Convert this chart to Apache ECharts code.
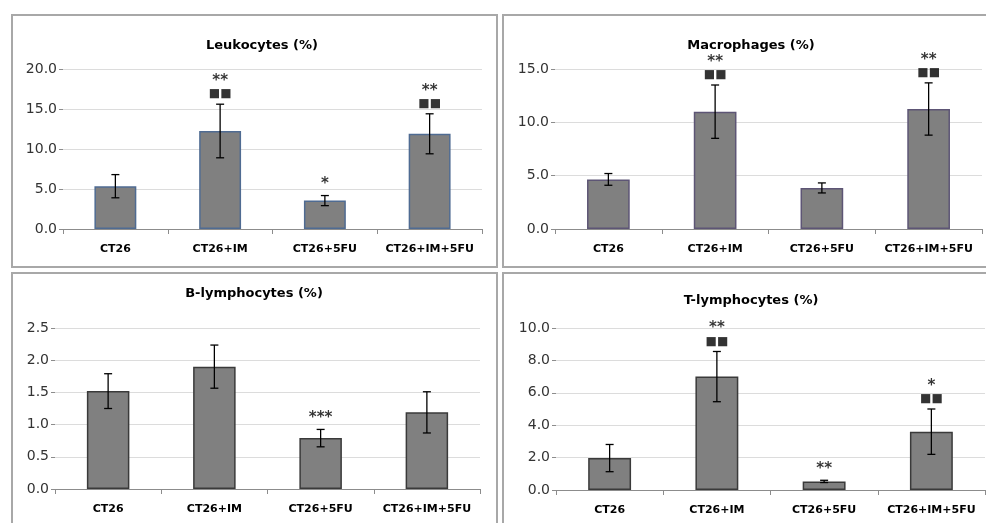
<!DOCTYPE html>
<html>
<head>
<meta charset="utf-8">
<script src="https://cdn.jsdelivr.net/npm/echarts@6/dist/echarts.min.js"></script>
<style>
html,body{margin:0;padding:0;background:#fff;}
#chart{width:986px;height:523px;}
</style>
</head>
<body>
<div id="chart"></div>
<script>
// ---- data ----
const categories = ['CT26', 'CT26+IM', 'CT26+5FU', 'CT26+IM+5FU'];

const leukTitle = 'Leukocytes (%)';
const leukMean = [5.35, 12.25, 3.55, 11.9];
const leukErr = [1.45, 3.35, 0.63, 2.5];
const leukStars = ['', '**', '*', '**'];
const leukSquares = ['', '■■', '', '■■'];
const leukTicks = [0, 20, 5];

const macTitle = 'Macrophages (%)';
const macMean = [4.65, 11.0, 3.85, 11.25];
const macErr = [0.55, 2.5, 0.47, 2.45];
const macStars = ['', '**', '', '**'];
const macSquares = ['', '■■', '', '■■'];
const macTicks = [0, 15, 5];

const bTitle = 'B-lymphocytes (%)';
const bMean = [1.52, 1.9, 0.79, 1.19];
const bErr = [0.27, 0.335, 0.135, 0.32];
const bStars = ['', '', '***', ''];
const bSquares = ['', '', '', ''];
const bTicks = [0, 2.5, 0.5];

const tTitle = 'T-lymphocytes (%)';
const tMean = [1.97, 7.0, 0.53, 3.6];
const tErr = [0.84, 1.55, 0.07, 1.4];
const tStars = ['', '**', '**', '*'];
const tSquares = ['', '■■', '', '■■'];
const tTicks = [0, 10, 2];

// ---- layout ----
const FONT = 'DejaVu Sans';
const panels = [
  {title: leukTitle, mean: leukMean, err: leukErr, stars: leukStars, sq: leukSquares, ticks: leukTicks,
   grid: {left: 63, top: 69, width: 419, height: 160}, titlePos: [257, 34], border: '#4f6b92',
   frame: [12, 15, 485, 252]},
  {title: macTitle, mean: macMean, err: macErr, stars: macStars, sq: macSquares, ticks: macTicks,
   grid: {left: 555, top: 69, width: 427, height: 160}, titlePos: [746, 34], border: '#5d5575',
   frame: [503, 15, 490, 252]},
  {title: bTitle, mean: bMean, err: bErr, stars: bStars, sq: bSquares, ticks: bTicks,
   grid: {left: 55, top: 328, width: 425, height: 161}, titlePos: [249, 282], border: '#3a3a3a',
   frame: [12, 273, 485, 260]},
  {title: tTitle, mean: tMean, err: tErr, stars: tStars, sq: tSquares, ticks: tTicks,
   grid: {left: 556, top: 328, width: 429, height: 162}, titlePos: [746, 289], border: '#3a3a3a',
   frame: [503, 273, 490, 260]}
];

const option = {
  animation: false,
  backgroundColor: '#ffffff',
  title: [], grid: [], xAxis: [], yAxis: [], series: [],
  graphic: []
};

panels.forEach((p, gi) => {
  option.graphic.push({
    type: 'rect', silent: true, z: -10,
    shape: {x: p.frame[0], y: p.frame[1], width: p.frame[2], height: p.frame[3]},
    style: {fill: 'none', stroke: '#a8a8a8', lineWidth: 2}
  });
  option.title.push({
    text: p.title, left: p.titlePos[0], top: p.titlePos[1], textAlign: 'center',
    textStyle: {fontFamily: FONT, fontSize: 13, fontWeight: 'bold', color: '#000'}
  });
  option.grid.push(Object.assign({containLabel: false}, p.grid));
  option.xAxis.push({
    type: 'category', gridIndex: gi, data: categories,
    axisLine: {lineStyle: {color: '#8c8c8c', width: 1}},
    axisTick: {show: true, length: 5, lineStyle: {color: '#8c8c8c'}},
    axisLabel: {interval: 0, fontFamily: FONT, fontSize: 11, fontWeight: 'bold', color: '#000', margin: 15}
  });
  option.yAxis.push({
    type: 'value', gridIndex: gi, min: p.ticks[0], max: p.ticks[1], interval: p.ticks[2],
    axisLine: {show: false},
    axisTick: {show: true, length: 4, lineStyle: {color: '#8c8c8c'}},
    splitLine: {lineStyle: {color: '#dcdcdc', width: 1}},
    axisLabel: {fontFamily: FONT, fontSize: 14, color: '#333', margin: 6,
      formatter: v => v.toFixed(1)}
  });
  option.series.push({
    type: 'bar', xAxisIndex: gi, yAxisIndex: gi, data: p.mean, barWidth: '40%',
    itemStyle: {color: '#808080', borderColor: p.border, borderWidth: 1.5},
    z: 2
  });
  option.series.push({
    type: 'custom', xAxisIndex: gi, yAxisIndex: gi, z: 5,
    data: p.mean.map((m, i) => [i, m - p.err[i], m + p.err[i]]),
    encode: {x: 0, y: [1, 2]},
    renderItem: (params, api) => {
      const x = api.value(0);
      const lo = api.coord([x, api.value(1)]);
      const hi = api.coord([x, api.value(2)]);
      const w = 4;
      const st = {stroke: '#000', lineWidth: 1.3};
      return {type: 'group', children: [
        {type: 'line', shape: {x1: hi[0], y1: hi[1], x2: lo[0], y2: lo[1]}, style: st},
        {type: 'line', shape: {x1: hi[0] - w, y1: hi[1], x2: hi[0] + w, y2: hi[1]}, style: st},
        {type: 'line', shape: {x1: lo[0] - w, y1: lo[1], x2: lo[0] + w, y2: lo[1]}, style: st}
      ]};
    }
  });
  option.series.push({
    type: 'scatter', xAxisIndex: gi, yAxisIndex: gi, symbolSize: 0, z: 6, silent: true,
    data: p.mean.map((m, i) => ({
      value: [i, m + p.err[i]],
      label: {
        show: !!(p.stars[i] || p.sq[i]), position: 'top', distance: 4,
        formatter: () => {
          const parts = [];
          if (p.stars[i]) parts.push('{s|' + p.stars[i] + '}');
          if (p.sq[i]) parts.push('{q|' + p.sq[i] + '}');
          return parts.join('\n');
        },
        rich: {
          s: {fontFamily: FONT, fontSize: 15, fontWeight: 'bold', color: '#000', lineHeight: 14, align: 'center'},
          q: {fontFamily: FONT, fontSize: 12, color: '#000', lineHeight: 12, align: 'center'}
        }
      }
    }))
  });
});

const chart = echarts.init(document.getElementById('chart'), null, {renderer: 'canvas'});
chart.setOption(option);
</script>
</body>
</html>
